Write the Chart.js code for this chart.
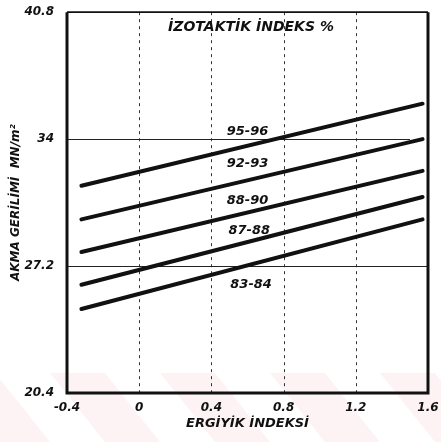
<!DOCTYPE html>
<html>
<head>
<meta charset="utf-8">
<script src="https://cdn.jsdelivr.net/npm/chart.js@4"></script>
<style>
  html, body { margin: 0; padding: 0; background: #fff; }
  #wrap { width: 441px; height: 442px; }
</style>
</head>
<body>
<div id="wrap"><canvas id="chart" width="441" height="442"></canvas></div>
<script>
// x = ergiyik indeksi, y = akma gerilimi (MN/m2)
const seriesNames = ['95-96', '92-93', '88-90', '87-88', '83-84'];
const xStart = -0.32, xEnd = 1.57;
const startValues = [31.5, 29.7, 27.95, 26.2, 24.9];
const endValues = [35.9, 34.0, 32.3, 30.9, 29.7];
const xTicks = [-0.4, 0, 0.4, 0.8, 1.2, 1.6];
const yTicks = [20.4, 27.2, 34, 40.8];
const xTickLabels = ['-0.4', '0', '0.4', '0.8', '1.2', '1.6'];
const yTickLabels = ['20.4', '27.2', '34', '40.8'];
// where each curve label sits (data coords)
const labelX = [0.6, 0.6, 0.6, 0.61, 0.62];
const labelY = [34.4, 32.7, 30.7, 29.1, 26.2];

const ink = '#111';
const hand = '"DejaVu Sans", sans-serif';

const datasets = seriesNames.map((name, i) => ({
  label: name,
  data: [{ x: xStart, y: startValues[i] }, { x: xEnd, y: endValues[i] }],
  showLine: true,
  borderColor: ink,
  borderWidth: 4,
  pointRadius: 0,
  borderCapStyle: 'round',
  tension: 0
}));

const paperPlugin = {
  id: 'paper',
  beforeDraw(chart) {
    const c = chart.ctx;
    c.save();
    c.fillStyle = '#fff';
    c.fillRect(0, 0, chart.width, chart.height);
    // faint pink chevrons of the scan watermark
    c.fillStyle = 'rgba(240,160,170,0.13)';
    for (let x0 = -60; x0 < chart.width; x0 += 110) {
      c.beginPath();
      c.moveTo(x0, 373);
      c.lineTo(x0 + 55, 373);
      c.lineTo(x0 + 110, 442);
      c.lineTo(x0 + 55, 442);
      c.closePath();
      c.fill();
    }
    c.restore();
  },
  beforeDatasetsDraw(chart) {
    const c = chart.ctx, a = chart.chartArea;
    const xs = chart.scales.x, ys = chart.scales.y;
    c.save();
    // dashed verticals
    c.strokeStyle = '#333';
    c.lineWidth = 1;
    c.setLineDash([3, 4]);
    [0, 0.4, 0.8, 1.2].forEach(v => {
      const px = Math.round(xs.getPixelForValue(v)) + 0.5;
      c.beginPath();
      c.moveTo(px, a.top);
      c.lineTo(px, a.bottom);
      c.stroke();
    });
    // thin solid horizontals
    c.setLineDash([]);
    c.strokeStyle = '#222';
    c.lineWidth = 1.2;
    [34, 27.2].forEach(v => {
      const py = Math.round(ys.getPixelForValue(v)) + 0.5;
      c.beginPath();
      c.moveTo(a.left, py);
      c.lineTo(v === 34 ? xs.getPixelForValue(1.5) : a.right, py);
      c.stroke();
    });
    c.restore();
  },
  afterDatasetsDraw(chart) {
    const c = chart.ctx, a = chart.chartArea;
    const xs = chart.scales.x, ys = chart.scales.y;
    c.save();
    c.strokeStyle = ink;
    // frame
    c.lineWidth = 1.8;
    c.beginPath();
    c.moveTo(a.left, a.top);
    c.lineTo(a.right, a.top);
    c.stroke();
    c.lineWidth = 3;
    c.beginPath();
    c.moveTo(a.left, a.top);
    c.lineTo(a.left, a.bottom);
    c.lineTo(a.right, a.bottom);
    c.lineTo(a.right, a.top);
    c.stroke();
    // curve labels
    c.fillStyle = ink;
    c.font = 'italic bold 13px ' + hand;
    c.textAlign = 'center';
    c.textBaseline = 'middle';
    seriesNames.forEach((name, i) => {
      c.fillText(name, xs.getPixelForValue(labelX[i]), ys.getPixelForValue(labelY[i]));
    });
    // header inside the plot
    c.font = 'italic bold 14px ' + hand;
    c.textAlign = 'left';
    c.fillText('İZOTAKTİK İNDEKS %', xs.getPixelForValue(0.16), ys.getPixelForValue(40.0));
    c.restore();
  }
};

new Chart(document.getElementById('chart'), {
  type: 'scatter',
  data: { datasets },
  options: {
    responsive: false,
    animation: false,
    events: [],
    layout: { padding: { top: 11, right: 13, left: 0, bottom: 0 } },
    plugins: { legend: { display: false }, tooltip: { enabled: false } },
    scales: {
      x: {
        type: 'linear',
        min: -0.4, max: 1.6,
        afterBuildTicks: s => { s.ticks = xTicks.map(v => ({ value: v })); },
        afterFit: s => { s.height = 49; },
        grid: { display: false },
        border: { display: false },
        ticks: {
          color: ink,
          padding: 0,
          maxRotation: 0,
          autoSkip: false,
          font: { family: hand, size: 12, weight: 'bold', style: 'italic' },
          callback: (v, i) => xTickLabels[i]
        },
        title: {
          display: true,
          text: 'ERGİYİK İNDEKSİ',
          color: ink,
          padding: { top: 0, bottom: 11 },
          font: { family: hand, size: 13, weight: 'bold', style: 'italic' }
        }
      },
      y: {
        type: 'linear',
        min: 20.4, max: 40.8,
        afterBuildTicks: s => { s.ticks = yTicks.map(v => ({ value: v })); },
        afterFit: s => { s.width = 67; },
        grid: { display: false },
        border: { display: false },
        ticks: {
          color: ink,
          padding: 5,
          autoSkip: false,
          font: { family: hand, size: 12, weight: 'bold', style: 'italic' },
          callback: (v, i) => yTickLabels[i]
        },
        title: {
          display: true,
          text: 'AKMA GERİLİMİ  MN/m²',
          color: ink,
          padding: { top: 9, bottom: 0 },
          font: { family: hand, size: 12, weight: 'bold', style: 'italic' }
        }
      }
    }
  },
  plugins: [paperPlugin]
});
</script>
</body>
</html>
